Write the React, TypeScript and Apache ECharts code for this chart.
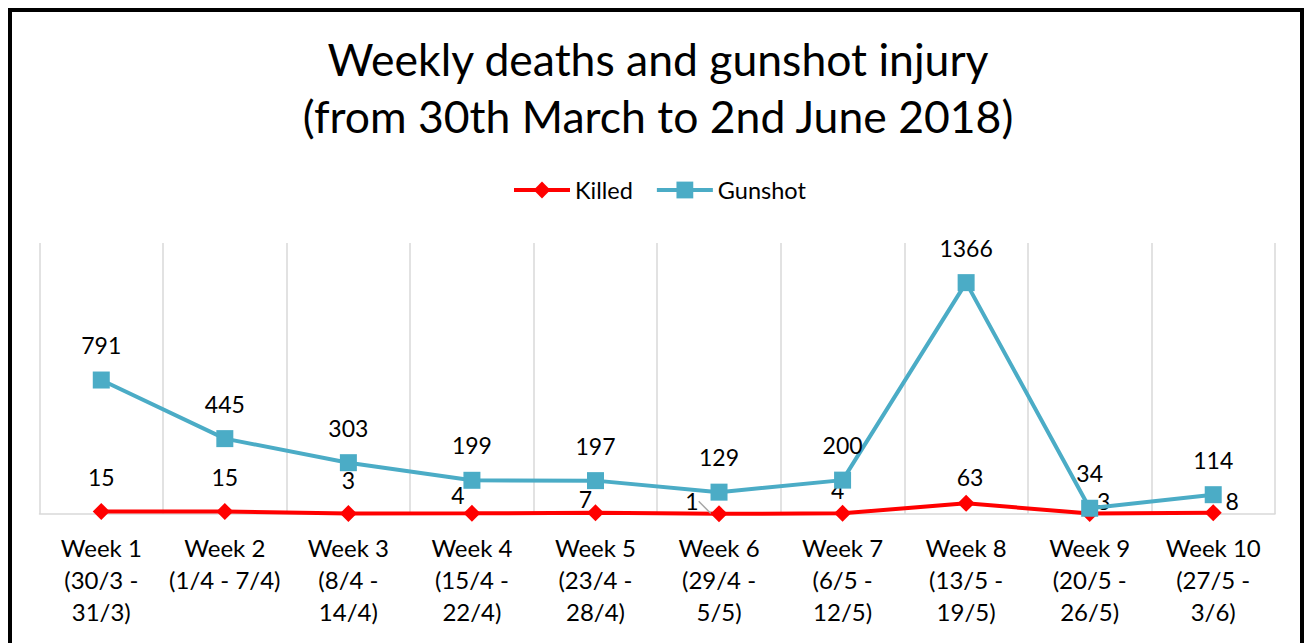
import React, { useEffect, useRef } from "react";
import * as echarts from "echarts";

const categories = [
  "Week 1\n(30/3 -\n31/3)",
  "Week 2\n(1/4 - 7/4)",
  "Week 3\n(8/4 -\n14/4)",
  "Week 4\n(15/4 -\n22/4)",
  "Week 5\n(23/4 -\n28/4)",
  "Week 6\n(29/4 -\n5/5)",
  "Week 7\n(6/5 -\n12/5)",
  "Week 8\n(13/5 -\n19/5)",
  "Week 9\n(20/5 -\n26/5)",
  "Week 10\n(27/5 -\n3/6)",
];
const killed = [15, 15, 3, 4, 7, 1, 4, 63, 3, 8];
const gunshot = [791, 445, 303, 199, 197, 129, 200, 1366, 34, 114];

// label nudges (styling only)
const killedLabelShifts: [number, number][] = [
  [0, 0], [0, 0], [0, 1], [-14, 16], [-10, 21], [-27, 22], [-5, 11], [4, 8], [14, 22], [19, 23],
];
// label with a leader line (week 6 killed)
const killedLeaderIndex = 5;

const FONT = "Lato";

export default function App() {
  const ref = useRef<HTMLDivElement>(null);
  useEffect(() => {
    if (!ref.current) return;
    const chart = echarts.init(ref.current, undefined, { renderer: "svg" });
    const labelBase = {
      show: true,
      position: "top" as const,
      fontSize: 23,
      lineHeight: 24,
      color: "#000",
      fontFamily: FONT,
    };
    chart.setOption({
      animation: false,
      backgroundColor: "#fff",
      textStyle: { fontFamily: FONT },
      title: {
        text: "Weekly deaths and gunshot injury\n(from 30th March to 2nd June 2018)",
        left: 653,
        textAlign: "center",
        top: 25,
        textStyle: {
          fontFamily: FONT,
          fontSize: 44.5,
          lineHeight: 57,
          fontWeight: "normal",
          color: "#000",
        },
      },
      legend: {
        left: 512,
        top: 178,
        padding: 0,
        itemWidth: 56,
        itemHeight: 21,
        itemGap: 22,
        lineStyle: { width: 4 },
        data: ["Killed", "Gunshot"],
        textStyle: { fontFamily: FONT, fontSize: 23.5, lineHeight: 24, color: "#000" },
      },
      grid: { left: 39.5, right: 31, top: 243, bottom: 129 },
      xAxis: {
        type: "category",
        data: categories,
        boundaryGap: true,
        axisLine: { lineStyle: { color: "#d9d9d9", width: 1.5 } },
        axisTick: { show: false },
        splitLine: { show: true, lineStyle: { color: "#d9d9d9", width: 1.5 } },
        axisLabel: {
          interval: 0,
          margin: 17,
          fontFamily: FONT,
          fontSize: 24,
          lineHeight: 32,
          color: "#000",
        },
      },
      yAxis: {
        type: "value",
        min: 0,
        max: 1600,
        show: false,
        splitLine: { show: false },
      },
      graphic: [
        {
          type: "rect",
          shape: { x: 10, y: 10, width: 1292, height: 700 },
          style: { fill: "none", stroke: "#000", lineWidth: 4 },
          z: 100,
        },
      ],
      series: [
        {
          name: "Killed",
          type: "line",
          data: killed.map((v, i) => ({
            value: v,
            labelLine:
              i === killedLeaderIndex
                ? { show: true, lineStyle: { color: "#a6a6a6", width: 1.5 } }
                : { show: false },
          })),
          labelLayout: (params: any) => {
            const s = killedLabelShifts[params.dataIndex] || [0, 0];
            return { dx: s[0], dy: s[1] };
          },
          symbol: "diamond",
          symbolSize: 17,
          lineStyle: { color: "#ff0000", width: 4 },
          itemStyle: { color: "#ff0000" },
          label: { ...labelBase, distance: 14 },
          z: 2,
        },
        {
          name: "Gunshot",
          type: "line",
          data: gunshot,
          symbol: "rect",
          symbolSize: 17,
          lineStyle: { color: "#4bacc6", width: 4 },
          itemStyle: { color: "#4bacc6" },
          label: { ...labelBase, distance: 14.5 },
          z: 3,
        },
      ],
    });
    return () => chart.dispose();
  }, []);
  return (
    <div
      ref={ref}
      style={{ position: "fixed", left: 0, top: 0, width: 1306, height: 643 }}
    />
  );
}
